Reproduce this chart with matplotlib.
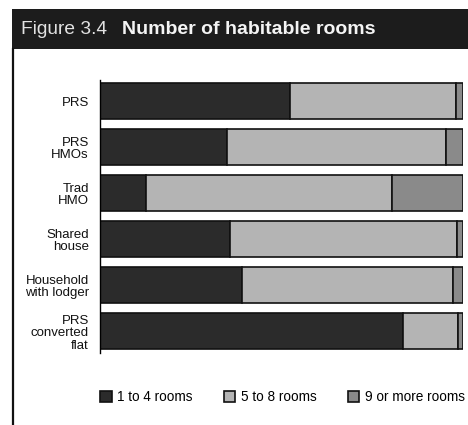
import matplotlib
matplotlib.use("Agg")
import matplotlib.pyplot as plt
from matplotlib.patches import Rectangle
from matplotlib.lines import Line2D
import numpy as np

plt.rcParams['font.family'] = ['Liberation Sans', 'DejaVu Sans']

categories = ["PRS", "PRS\nHMOs", "Trad\nHMO", "Shared\nhouse",
              "Household\nwith lodger", "PRS\nconverted\nflat"]
rooms_1_4 = [52.3, 35.0, 12.7, 35.8, 39.0, 83.5]
rooms_5_8 = [45.8, 60.3, 67.7, 62.5, 58.2, 15.1]
rooms_9_plus = [1.9, 4.7, 19.6, 1.7, 2.8, 1.4]
series_names = ["1 to 4 rooms", "5 to 8 rooms", "9 or more rooms"]
series_colors = ["#2b2b2b", "#b4b4b4", "#8a8a8a"]

W, H = 468, 425
fig = plt.figure(figsize=(W / 100, H / 100), dpi=100)

# header band
fig.patches.append(Rectangle((12 / W, 1 - 49 / H), 1 - 12 / W, 40 / H,
                             transform=fig.transFigure, facecolor="#1c1c1c",
                             edgecolor="none", zorder=0))
fig.text(21 / W, 1 - 29 / H, "Figure 3.4", color="#e2e2e2", fontsize=13.8,
         va="center", ha="left")
fig.text(122 / W, 1 - 29 / H, "Number of habitable rooms", color="#f4f4f4",
         fontsize=14, fontweight="bold", va="center", ha="left")
# left frame rule
fig.lines.append(Line2D([13 / W, 13 / W], [0, 1 - 49 / H], transform=fig.transFigure,
                        color="#111111", lw=1.6))

ax = fig.add_axes([100 / W, 1 - 353 / H, (463 - 100) / W, (353 - 80) / H])
y = np.arange(len(categories))
left = np.zeros(len(categories))
for vals, name, col in zip([rooms_1_4, rooms_5_8, rooms_9_plus], series_names, series_colors):
    ax.barh(y, vals, left=left, height=0.78, color=col, edgecolor="#111111",
            linewidth=1.2, label=name)
    left += np.array(vals)

ax.set_xlim(0, 100)
ax.set_ylim(5.47, -0.46)
ax.set_yticks(y)
ax.set_yticklabels(categories, fontsize=9.5, multialignment="right",
                   linespacing=1.05, color="#111111")
ax.tick_params(axis="y", length=0, pad=8)
ax.set_xticks([])
for s in ["top", "right", "bottom"]:
    ax.spines[s].set_visible(False)
ax.spines["left"].set_linewidth(1.0)

fig.legend(loc="center left", bbox_to_anchor=(100 / W, 1 - 397 / H), ncol=3,
           frameon=False, fontsize=9.8, handlelength=0.85, handleheight=0.85,
           handletextpad=0.4, columnspacing=2.3, borderaxespad=0, borderpad=0)

fig.savefig("out.png", dpi=100)
